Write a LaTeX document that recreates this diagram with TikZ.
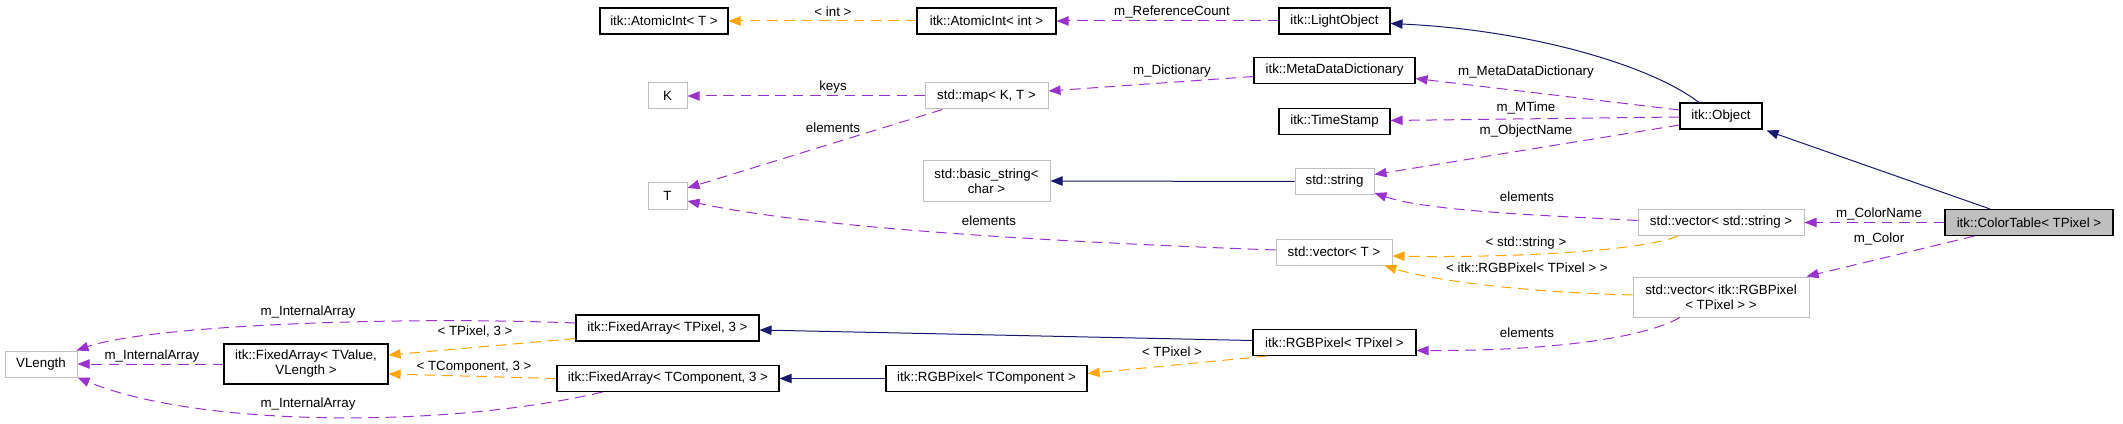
\documentclass[tikz,border=0pt]{standalone}
\usepackage{fontspec}
\setmainfont{Liberation Sans}
\usetikzlibrary{arrows.meta,calc}
\definecolor{usecol}{HTML}{9A32CD}
\definecolor{tplcol}{HTML}{FFA500}
\definecolor{inhcol}{HTML}{191970}
\definecolor{undocgray}{HTML}{BFBFBF}
\begin{document}
\begin{tikzpicture}[x=0.75pt,y=-0.75pt,
  base/.style={rectangle, inner sep=0pt, align=center, font=\fontsize{10}{11.25}\selectfont, minimum height=26*0.75pt},
  doc/.style={base, draw=black, line width=0.8pt},
  undoc/.style={base, draw=undocgray, line width=0.75pt},
  bw/.style={minimum width=#1*0.75pt},
  bh/.style={minimum height=#1*0.75pt},
  lbl/.style={font=\fontsize{10}{11}\selectfont, inner sep=0pt},
  tip/.style={-{Triangle[length=9pt,width=7pt]}},
  inh/.style={draw=inhcol, line width=0.75pt, tip},
  use/.style={draw=usecol, line width=0.75pt, dash pattern=on 8pt off 5pt, tip},
  tpl/.style={draw=tplcol, line width=0.75pt, dash pattern=on 8pt off 5pt, tip}]
\useasboundingbox (0,0) rectangle (2123,424);
% nodes
\node[doc, bw=128] (atomicT) at (664,21) {itk::AtomicInt< T >};
\node[doc, bw=139] (atomicInt) at (986.5,21) {itk::AtomicInt< int >};
\node[doc, bw=111] (lightObj) at (1334.5,21) {itk::LightObject};
\node[doc, bw=161] (metaDict) at (1334.5,70.5) {itk::MetaDataDictionary};
\node[doc, bw=111] (timeStamp) at (1334.5,121.5) {itk::TimeStamp};
\node[doc, bw=82] (object) at (1721,116) {itk::Object};
\node[undoc, bw=39] (K) at (667.5,96) {K};
\node[undoc, bw=123] (map) at (986.5,96) {std::map< K, T >};
\node[undoc, bw=39] (T) at (667.5,196) {T};
\node[undoc, bw=127, bh=40] (basicStr) at (986.5,181) {std::basic\_string<\\char >};
\node[undoc, bw=79] (stdStr) at (1334.5,181.5) {std::string};
\node[undoc, bw=116] (vecT) at (1334,252) {std::vector< T >};
\node[undoc, bw=166] (vecStr) at (1721,222.5) {std::vector< std::string >};
\node[doc, bw=168, fill=undocgray] (colorTable) at (2029,222.5) {itk::ColorTable< TPixel >};
\node[undoc, bw=176, bh=40] (vecRGB) at (1721,297) {std::vector< itk::RGBPixel\\< TPixel > >};
\node[doc, bw=183] (fixTPixel) at (667.5,328) {itk::FixedArray< TPixel, 3 >};
\node[doc, bw=163] (rgbTPixel) at (1334.5,342.5) {itk::RGBPixel< TPixel >};
\node[undoc, bw=72] (VLength) at (41,364) {VLength};
\node[doc, bw=164, bh=40] (fixTValue) at (306,364) {itk::FixedArray< TValue,\\VLength >};
\node[doc, bw=222] (fixTComp) at (668,378.5) {itk::FixedArray< TComponent, 3 >};
\node[doc, bw=201] (rgbTComp) at (986.5,378.5) {itk::RGBPixel< TComponent >};
% inheritance
\draw[inh] ($(object.north)+(-22,0)$) .. controls (1650,65) and (1530,30) .. ($(lightObj.east)+(0,2.5)$);
\draw[inh] ($(colorTable.north)+(-39,0)$) -- ($(object.south east)+(4,1)$);
\draw[inh] (stdStr.west) -- (basicStr.east);
\draw[inh] ($(rgbTPixel.west)+(0,-2)$) -- ($(fixTPixel.east)+(0,2)$);
\draw[inh] (rgbTComp.west) -- (fixTComp.east);
% usage
\draw[use] (lightObj.west) -- (atomicInt.east);
\draw[use] ($(object.west)+(0,-6)$) -- ($(metaDict.east)+(0,8)$);
\draw[use] ($(object.west)+(0,1)$) -- ($(timeStamp.east)+(0,-1)$);
\draw[use] ($(object.west)+(0,9)$) -- ($(stdStr.east)+(0,-7)$);
\draw[use] ($(metaDict.west)+(0,6)$) -- ($(map.east)+(0,-5)$);
\draw[use] (map.west) -- (K.east);
\draw[use] ($(map.south west)+(18,0)$) -- ($(T.east)+(0,-8)$);
\draw[use] ($(vecT.west)+(0,-2)$) .. controls (1000,240) and (800,225) .. ($(T.east)+(0,5)$);
\draw[use] ($(vecStr.west)+(0,-2)$) .. controls (1560,216) and (1430,212) .. ($(stdStr.south east)+(0,-2)$);
\draw[use] (colorTable.west) -- (vecStr.east);
\draw[use] ($(colorTable.south west)+(30,0)$) -- ($(vecRGB.north east)+(-3,0)$);
\draw[use] ($(vecRGB.south)+(-41,0)$) .. controls (1640,340) and (1540,351) .. ($(rgbTPixel.east)+(0,8)$);
\draw[use] ($(fixTPixel.west)+(0,-5)$) .. controls (400,316) and (150,325) .. ($(VLength.north east)+(-1,0)$);
\draw[use] (fixTValue.west) -- (VLength.east);
\draw[use] ($(fixTComp.south west)+(46,0)$) .. controls (450,428) and (200,428) .. (VLength.south east);
% template
\draw[tpl] (atomicInt.west) -- (atomicT.east);
\draw[tpl] ($(vecStr.south)+(-43,0)$) .. controls (1640,252) and (1500,258) .. ($(vecT.east)+(0,4)$);
\draw[tpl] ($(vecRGB.west)+(0,-2)$) .. controls (1520,292) and (1430,280) .. ($(vecT.south east)+(-8,0)$);
\draw[tpl] ($(fixTPixel.south west)+(0,-3)$) -- ($(fixTValue.east)+(0,-9)$);
\draw[tpl] (fixTComp.west) -- ($(fixTValue.east)+(0,10)$);
\draw[tpl] ($(rgbTPixel.south west)+(15,0)$) -- ($(rgbTComp.east)+(0,-5)$);
% labels
\node[lbl] (lRef) at (1172,12) {m\_ReferenceCount};
\node[lbl] (lMeta) at (1526,72) {m\_MetaDataDictionary};
\node[lbl] (lMTime) at (1526,108) {m\_MTime};
\node[lbl] (lObjName) at (1526,131) {m\_ObjectName};
\node[lbl] (lDict) at (1172,71) {m\_Dictionary};
\node[lbl] (lKeys) at (833,87) {keys};
\node[lbl] (lElemMap) at (833,128) {elements};
\node[lbl] (lElemVecT) at (989,221) {elements};
\node[lbl] (lElemVecStr) at (1527,197) {elements};
\node[lbl] (lColorName) at (1879,214) {m\_ColorName};
\node[lbl] (lColor) at (1879,239) {m\_Color};
\node[lbl] (lElemRGB) at (1527,333) {elements};
\node[lbl] (lIA1) at (308,312) {m\_InternalArray};
\node[lbl] (lIA2) at (152,356) {m\_InternalArray};
\node[lbl] (lIA3) at (308,404) {m\_InternalArray};
\node[lbl] (lInt) at (833,12) {< int >};
\node[lbl] (lStdString) at (1526,243) {< std::string >};
\node[lbl] (lRGB) at (1527,268) {< itk::RGBPixel< TPixel > >};
\node[lbl] (lTPixel3) at (475,332) {< TPixel, 3 >};
\node[lbl] (lTComp3) at (474,367) {< TComponent, 3 >};
\node[lbl] (lTPixel) at (1172,352) {< TPixel >};
\end{tikzpicture}
\end{document}
